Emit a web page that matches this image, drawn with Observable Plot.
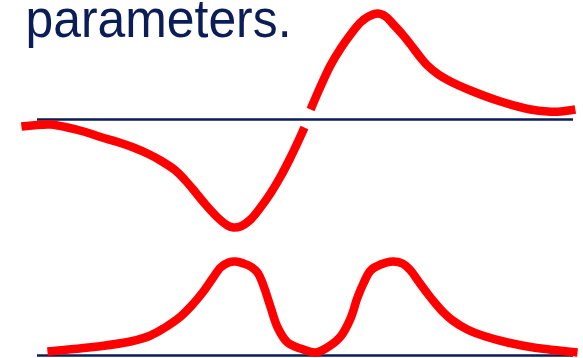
<!DOCTYPE html>
<html><head><meta charset="utf-8">
<script src="https://cdn.jsdelivr.net/npm/d3@7"></script>
<script src="https://cdn.jsdelivr.net/npm/@observablehq/plot@0.6"></script>
<style>html,body{margin:0;padding:0;background:#fff;}</style>
</head><body><div id="chart"></div>
<script>
// Upper curve (dispersion-like), offset from its own baseline; null = gap where it crosses the baseline
const topX = [-10.60,-9.51,-8.88,-8.28,-7.65,-7.01,-6.42,-5.86,-5.41,-4.85,-4.48,-4.10,-3.73,-3.28,-2.91,-2.69,-2.43,-2.05,-1.68,-1.31,-0.93,-0.56,-0.19,-0.04,
  null,
  0.19,0.56,0.93,1.31,1.68,2.05,2.35,2.69,2.99,3.28,3.62,3.92,4.29,4.55,4.96,5.41,6.16,7.28,8.40,9.03,9.51,10.07];
const topY = [-0.07,-0.05,-0.08,-0.12,-0.175,-0.225,-0.28,-0.345,-0.41,-0.51,-0.61,-0.73,-0.85,-0.98,-1.06,-1.08,-1.07,-1.00,-0.88,-0.74,-0.57,-0.38,-0.17,-0.08,
  null,
  0.10,0.33,0.54,0.71,0.85,0.97,1.03,1.06,1.03,0.95,0.85,0.75,0.62,0.54,0.45,0.38,0.29,0.18,0.10,0.08,0.08,0.10];
// Lower curve (double-peaked)
const botX = [-9.63,-7.76,-6.53,-5.78,-5.30,-4.66,-4.18,-3.81,-3.47,-3.17,-2.87,-2.61,-2.31,-2.05,-1.79,-1.57,-1.31,-1.04,-0.67,-0.19,0.37,
  0.75,1.31,1.68,1.94,2.16,2.43,2.80,3.25,3.62,3.92,4.22,4.55,4.85,5.15,5.49,6.04,6.72,7.54,8.51,10.15];
const botY = [0.04,0.09,0.14,0.20,0.27,0.39,0.52,0.64,0.77,0.88,0.93,0.94,0.92,0.89,0.83,0.70,0.49,0.28,0.13,0.07,0.03,
  0.07,0.19,0.37,0.58,0.72,0.85,0.91,0.94,0.92,0.85,0.74,0.62,0.52,0.43,0.35,0.26,0.19,0.13,0.08,0.03];
const baselines = [0, 2.36];       // lower and upper baseline levels
const titleText = "parameters.";

const TOP_BASE = baselines[1];
const RED = "#ff0000", NAVY = "#0b1d56";

const topData = topX.map((x, i) => ({x: x == null ? NaN : x, y: topY[i] == null ? NaN : TOP_BASE + topY[i]}));
const botData = botX.map((x, i) => ({x, y: botY[i]}));

const lineOpts = {x: "x", y: "y", stroke: RED, strokeWidth: 8.5, curve: "catmull-rom", strokeLinecap: "butt", strokeLinejoin: "round"};

const chart = Plot.plot({
  width: 583, height: 358,
  marginTop: 0, marginBottom: 0, marginLeft: 37, marginRight: 10,
  x: {domain: [-10, 10], axis: null},
  y: {domain: [-0.03, 3.55], axis: null},
  style: {background: "#fff", overflow: "visible"},
  marks: [
    Plot.ruleY(baselines, {x1: -10, x2: 10, stroke: NAVY, strokeWidth: 2.6}),
    Plot.line(topData, lineOpts),
    Plot.line(botData, lineOpts),
    Plot.text([titleText], {text: d => d, frameAnchor: "top-left", textAnchor: "start", lineAnchor: "bottom",
      dx: -12, dy: 36, fill: NAVY, fontSize: 53, fontFamily: "Liberation Sans, Arial, sans-serif"})
  ]
});
// compress the title slightly to the reference's width
d3.select(chart).selectAll("g[aria-label='text'] text")
  .attr("textLength", 266).attr("lengthAdjust", "spacingAndGlyphs");
document.getElementById("chart").appendChild(chart);
</script>
</body></html>
